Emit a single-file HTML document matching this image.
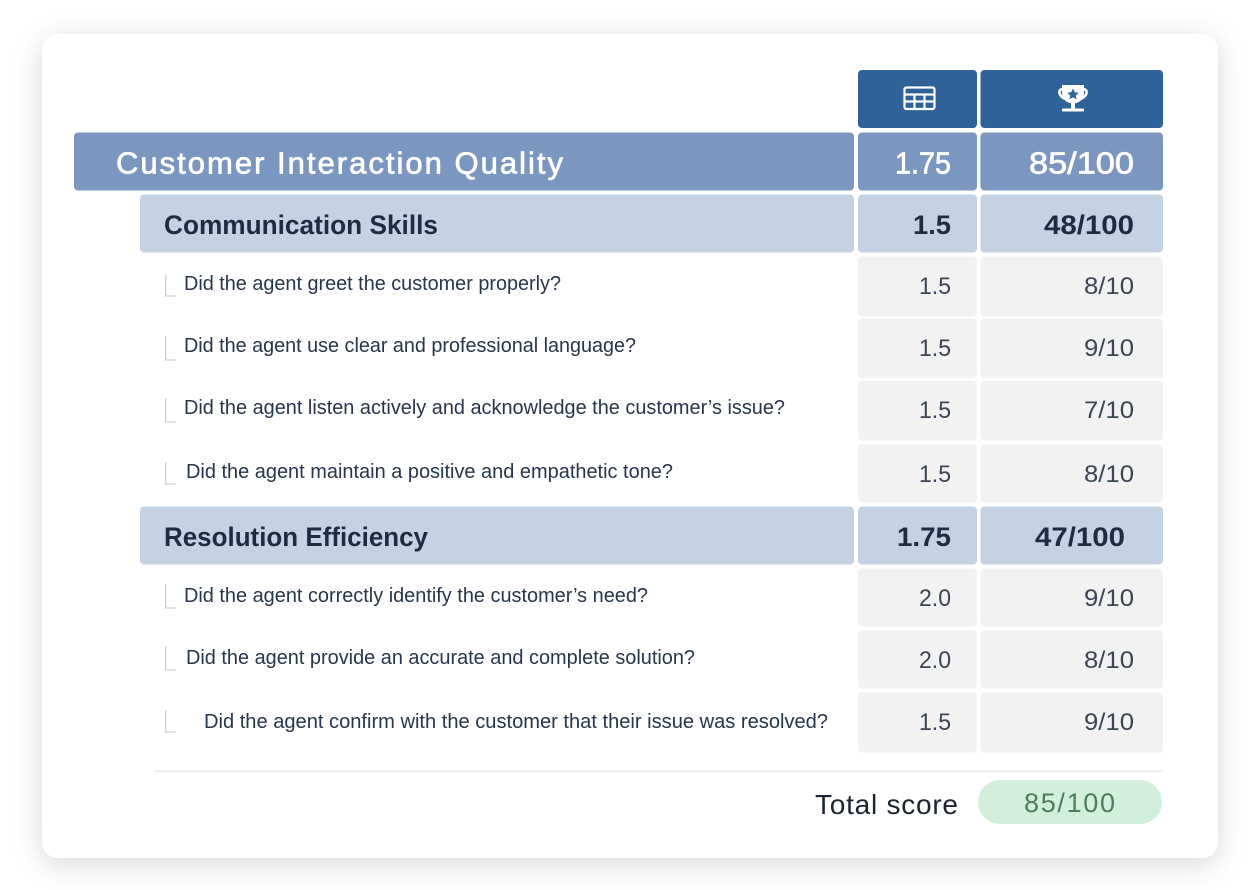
<!DOCTYPE html>
<html lang="en">
<head>
<meta charset="utf-8">
<title>Customer Interaction Quality Scorecard</title>
<style>
html,body{margin:0;padding:0;background:#fff;width:1258px;height:890px;overflow:hidden}
#card{position:absolute;left:42px;top:34px;width:1176px;height:824px;background:#fff;border-radius:16px;box-shadow:0 6px 30px rgba(0,0,0,.16)}
svg{position:absolute;left:0;top:0}
text{font-family:"Liberation Sans",sans-serif}
.q{font-size:20px;fill:#26364b}
.v{font-size:24px;fill:#3a4656}
.w{font-size:31px;fill:#fff;stroke:#fff;stroke-width:.7px}
.b{font-size:27px;font-weight:bold;fill:#1c2d42}
.el{fill:none;stroke:#cdd1d6;stroke-width:1.3}
.c{fill:#f2f2f2}
.h{fill:#2e6299}
.l1{fill:#7b97bf}
.l2{fill:#c5d2e3}
</style>
</head>
<body>
<div id="card"></div>
<svg width="1258" height="890" viewBox="0 0 1258 890">
  <!-- header -->
  <rect class="h" x="858" y="70" width="119" height="58" rx="4"/>
  <rect class="h" x="980.5" y="70" width="182.5" height="58" rx="4"/>
  <g fill="none" stroke="#fff" stroke-width="2.2">
    <rect x="904.500" y="87.500" width="30" height="21.500" rx="2"/>
    <path d="M905 94.500H934M905 101.500H934M914.500 94.500V108M924.500 94.500V108"/>
  </g>
  <g>
    <path d="M1062 85H1084V93C1084 100 1078 103.500 1073 103.500C1068 103.500 1062 100 1062 93Z" fill="#fff"/>
    <path d="M1063 89C1057 89 1058.500 97.500 1067 99.500M1083 89C1089 89 1087.500 97.500 1079 99.500" fill="none" stroke="#fff" stroke-width="2.6"/>
    <rect x="1071" y="102" width="4" height="7" fill="#fff"/>
    <rect x="1062" y="108.500" width="22" height="3" rx="1" fill="#fff"/>
    <path d="M1073 88.500L1074.700 92.300L1078.800 92.700L1075.700 95.400L1076.600 99.400L1073 97.300L1069.400 99.400L1070.300 95.400L1067.200 92.700L1071.300 92.300Z" fill="#2e6299"/>
  </g>

  <!-- level 1 -->
  <rect class="l1" x="74" y="132.500" width="780" height="58" rx="4"/>
  <rect class="l1" x="858" y="132.500" width="119" height="58" rx="4"/>
  <rect class="l1" x="980.500" y="132.500" width="182.500" height="58" rx="4"/>
  <text class="w" x="116" y="173.500" textLength="447" lengthAdjust="spacing">Customer Interaction Quality</text>
  <text class="w" x="895" y="173.500" textLength="56" lengthAdjust="spacingAndGlyphs">1.75</text>
  <text class="w" x="1029" y="173.500" textLength="105" lengthAdjust="spacingAndGlyphs">85/100</text>

  <!-- Communication Skills -->
  <rect class="l2" x="140" y="194.500" width="714" height="58" rx="4"/>
  <rect class="l2" x="858" y="194.500" width="119" height="58" rx="4"/>
  <rect class="l2" x="980.500" y="194.500" width="182.500" height="58" rx="4"/>
  <text class="b" x="164" y="234" textLength="274" lengthAdjust="spacingAndGlyphs">Communication Skills</text>
  <text class="b" x="913" y="234" textLength="38" lengthAdjust="spacingAndGlyphs">1.5</text>
  <text class="b" x="1044" y="234" textLength="90" lengthAdjust="spacingAndGlyphs">48/100</text>

  <!-- question rows -->
  <g>
    <path class="el" d="M165.700 275V296H176"/>
    <text class="q" x="184" y="290" textLength="377" lengthAdjust="spacingAndGlyphs">Did the agent greet the customer properly?</text>
    <rect class="c" x="858" y="256.500" width="119" height="60" rx="4"/><rect class="c" x="980.500" y="256.500" width="182.500" height="60" rx="4"/>
    <text class="v" x="919" y="294" textLength="32" lengthAdjust="spacingAndGlyphs">1.5</text>
    <text class="v" x="1084" y="294" textLength="50" lengthAdjust="spacingAndGlyphs">8/10</text>
  </g>
  <g>
    <path class="el" d="M165.700 336V360H176"/>
    <text class="q" x="184" y="352" textLength="452" lengthAdjust="spacingAndGlyphs">Did the agent use clear and professional language?</text>
    <rect class="c" x="858" y="318.500" width="119" height="60" rx="4"/><rect class="c" x="980.500" y="318.500" width="182.500" height="60" rx="4"/>
    <text class="v" x="919" y="356" textLength="32" lengthAdjust="spacingAndGlyphs">1.5</text>
    <text class="v" x="1084" y="356" textLength="50" lengthAdjust="spacingAndGlyphs">9/10</text>
  </g>
  <g>
    <path class="el" d="M165.700 398V422H176"/>
    <text class="q" x="184" y="414" textLength="601" lengthAdjust="spacingAndGlyphs">Did the agent listen actively and acknowledge the customer’s issue?</text>
    <rect class="c" x="858" y="380.500" width="119" height="60" rx="4"/><rect class="c" x="980.500" y="380.500" width="182.500" height="60" rx="4"/>
    <text class="v" x="919" y="418" textLength="32" lengthAdjust="spacingAndGlyphs">1.5</text>
    <text class="v" x="1084" y="418" textLength="50" lengthAdjust="spacingAndGlyphs">7/10</text>
  </g>
  <g>
    <path class="el" d="M165.700 462V484H176"/>
    <text class="q" x="186" y="478" textLength="487" lengthAdjust="spacingAndGlyphs">Did the agent maintain a positive and empathetic tone?</text>
    <rect class="c" x="858" y="444.500" width="119" height="58" rx="4"/><rect class="c" x="980.500" y="444.500" width="182.500" height="58" rx="4"/>
    <text class="v" x="919" y="482" textLength="32" lengthAdjust="spacingAndGlyphs">1.5</text>
    <text class="v" x="1084" y="482" textLength="50" lengthAdjust="spacingAndGlyphs">8/10</text>
  </g>

  <!-- Resolution Efficiency -->
  <rect class="l2" x="140" y="506.500" width="714" height="58" rx="4"/>
  <rect class="l2" x="858" y="506.500" width="119" height="58" rx="4"/>
  <rect class="l2" x="980.500" y="506.500" width="182.500" height="58" rx="4"/>
  <text class="b" x="164" y="546" textLength="264" lengthAdjust="spacingAndGlyphs">Resolution Efficiency</text>
  <text class="b" x="897" y="546" textLength="54" lengthAdjust="spacingAndGlyphs">1.75</text>
  <text class="b" x="1035" y="546" textLength="90" lengthAdjust="spacingAndGlyphs">47/100</text>

  <g>
    <path class="el" d="M165.700 584V608H176"/>
    <text class="q" x="184" y="602" textLength="464" lengthAdjust="spacingAndGlyphs">Did the agent correctly identify the customer’s need?</text>
    <rect class="c" x="858" y="568.500" width="119" height="58" rx="4"/><rect class="c" x="980.500" y="568.500" width="182.500" height="58" rx="4"/>
    <text class="v" x="919" y="606" textLength="32" lengthAdjust="spacingAndGlyphs">2.0</text>
    <text class="v" x="1084" y="606" textLength="50" lengthAdjust="spacingAndGlyphs">9/10</text>
  </g>
  <g>
    <path class="el" d="M165.700 646V670H176"/>
    <text class="q" x="186" y="664" textLength="509" lengthAdjust="spacingAndGlyphs">Did the agent provide an accurate and complete solution?</text>
    <rect class="c" x="858" y="630.500" width="119" height="58" rx="4"/><rect class="c" x="980.500" y="630.500" width="182.500" height="58" rx="4"/>
    <text class="v" x="919" y="668" textLength="32" lengthAdjust="spacingAndGlyphs">2.0</text>
    <text class="v" x="1084" y="668" textLength="50" lengthAdjust="spacingAndGlyphs">8/10</text>
  </g>
  <g>
    <path class="el" d="M165.700 710V732H176"/>
    <text class="q" x="204" y="728" textLength="624" lengthAdjust="spacingAndGlyphs">Did the agent confirm with the customer that their issue was resolved?</text>
    <rect class="c" x="858" y="692.500" width="119" height="60" rx="4"/><rect class="c" x="980.500" y="692.500" width="182.500" height="60" rx="4"/>
    <text class="v" x="919" y="730" textLength="32" lengthAdjust="spacingAndGlyphs">1.5</text>
    <text class="v" x="1084" y="730" textLength="50" lengthAdjust="spacingAndGlyphs">9/10</text>
  </g>

  <!-- footer -->
  <rect x="155" y="770.500" width="1008" height="1.500" fill="#e8e8e8"/>
  <text x="815" y="814" font-size="28" fill="#1a2433" textLength="143" lengthAdjust="spacing">Total score</text>
  <rect x="978" y="780" width="184" height="44" rx="22" fill="#d2efdc"/>
  <text x="1024" y="812" font-size="27" fill="#4f7d5f" textLength="91" lengthAdjust="spacing">85/100</text>
</svg>
</body>
</html>
